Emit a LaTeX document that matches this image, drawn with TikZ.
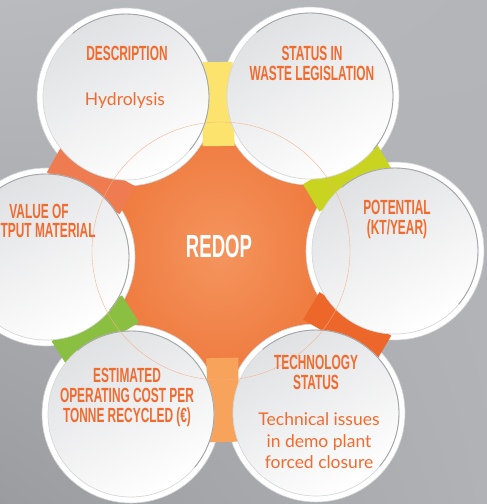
\documentclass[tikz,border=0pt]{standalone}
\usepackage{fontspec}
\usetikzlibrary{calc,shadings}
\newfontfamily\hdfont[FakeStretch=0.58]{Liberation Sans}
\newfontfamily\bodyfont{Lato}
\definecolor{bgA}{HTML}{B9BBBE}
\definecolor{bgB}{HTML}{B3B5B8}
\definecolor{bgC}{HTML}{9A9C9F}
\definecolor{bgD}{HTML}{B0B2B5}
\definecolor{txtor}{HTML}{F26B2E}
\definecolor{staror}{HTML}{EF7A3E}
\definecolor{starin}{HTML}{F4955E}
\definecolor{cyel}{HTML}{FBE36E}
\definecolor{clime}{HTML}{C9D420}
\definecolor{cred}{HTML}{EE672A}
\definecolor{cpeach}{HTML}{F7A35C}
\definecolor{cgreen}{HTML}{8BBF42}
\definecolor{csalm}{HTML}{EF7C50}
\definecolor{rimgray}{HTML}{A4A6A9}
\definecolor{rimlight}{HTML}{D6D8DA}
\definecolor{ringedge}{HTML}{D0D2D4}
\definecolor{innergray}{HTML}{E0E1E3}
\definecolor{thinor}{HTML}{F4B089}
\newcommand\connector[2]{%
  \coordinate (ci) at ($(hub)!106pt!(#1)$);
  \coordinate (co) at ($(hub)!190pt!(#1)$);
  \fill[#2] ($(ci)!16pt!90:(co)$) -- ($(ci)!16pt!-90:(co)$) -- ($(co)!15pt!90:(ci)$) -- ($(co)!15pt!-90:(ci)$) -- cycle;
}
\newcommand\outerring[1]{%
  \fill[white] (#1) circle[radius=89pt];
  \draw[ringedge, line width=0.6pt] (#1) circle[radius=89pt];
}
\newcommand\innerdisk[1]{%
  \shade[left color=innergray, right color=white, shading angle=30] (#1) circle[radius=83pt];
  \draw[rimlight, line width=0.7pt] (#1) circle[radius=83pt];
  \draw[rimgray, line width=0.9pt] ($(#1)+(-40:83pt)$) arc[start angle=-40, end angle=130, radius=83pt];
}
\begin{document}
\begin{tikzpicture}[x=1pt,y=-1pt,
  head/.style={text=txtor, font=\hdfont\bfseries\fontsize{20.5}{20}\selectfont, align=center, inner sep=0pt},
  body/.style={text=txtor, font=\bodyfont\fontsize{17.5}{21.5}\selectfont, align=center, inner sep=0pt},
  hubtext/.style={text=white, font=\hdfont\bfseries\fontsize{32}{32}\selectfont, inner sep=0pt}]
\useasboundingbox (0,0) rectangle (487,504);
\clip (0,0) rectangle (487,504);
\shade[upper left=bgA, upper right=bgB, lower left=bgC, lower right=bgD] (0,0) rectangle (487,504);
% centres
\coordinate (hub) at (220,252);
\coordinate (cD) at (126,97);
\coordinate (cS) at (310,96);
\coordinate (cP) at (395,251);
\coordinate (cT) at (316,413);
\coordinate (cE) at (131,414);
\coordinate (cV) at (46,257);
\coordinate (mDS) at ($(cD)!0.5!(cS)$);
\coordinate (mSP) at ($(cS)!0.5!(cP)$);
\coordinate (mPT) at ($(cP)!0.5!(cT)$);
\coordinate (mTE) at ($(cT)!0.5!(cE)$);
\coordinate (mEV) at ($(cE)!0.5!(cV)$);
\coordinate (mVD) at ($(cV)!0.5!(cD)$);
% central star
\shade[inner color=starin, outer color=staror]
  ($(hub)!128pt!(mDS)$) -- ($(hub)!128pt!(mSP)$) -- ($(hub)!128pt!(mPT)$) --
  ($(hub)!128pt!(mTE)$) -- ($(hub)!128pt!(mEV)$) -- ($(hub)!128pt!(mVD)$) -- cycle;
% outer white rings
\outerring{cD}
\outerring{cS}
\outerring{cP}
\outerring{cT}
\outerring{cE}
\outerring{cV}
% connectors
\connector{mDS}{cyel}
\connector{mSP}{clime}
\connector{mPT}{cred}
\connector{mTE}{cpeach}
\connector{mEV}{cgreen}
\connector{mVD}{csalm}
% inner disks
\innerdisk{cD}
\innerdisk{cS}
\innerdisk{cP}
\innerdisk{cT}
\innerdisk{cE}
\innerdisk{cV}
% thin ring
\draw[thinor, line width=0.35pt] (221,251) circle[radius=129pt];
% texts
\node[hubtext] (redop) at (219,246) {REDOP};
\node[head] (tD) at (127,53) {DESCRIPTION};
\node[body] (bD) at (125,101) {Hydrolysis};
\node[head] (tS) at (312,63) {STATUS IN\\WASTE LEGISLATION};
\node[head] (tP) at (397,219) {POTENTIAL\\(KT/YEAR)};
\node[head] (tV1) at (39,211) {VALUE OF};
\node[head, anchor=west] (tV2) at (0.5,231) {TPUT MATERIAL};
\node[head] (tE) at (127,397) {ESTIMATED\\OPERATING COST PER\\TONNE RECYCLED (€)};
\node[head] (tT) at (316,372) {TECHNOLOGY\\STATUS};
\node[body] (bT) at (319,441) {Technical issues\\in demo plant\\forced closure};
\end{tikzpicture}
\end{document}
